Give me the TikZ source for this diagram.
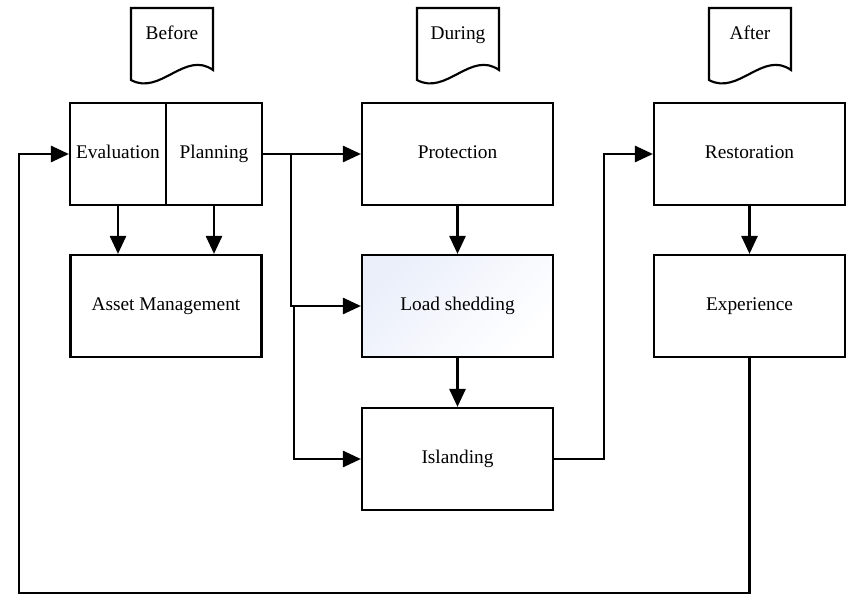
\documentclass[tikz,border=0pt]{standalone}
\usepackage{fontspec}
\setmainfont{Liberation Serif}
\usetikzlibrary{arrows.meta}

\definecolor{shadeblue}{RGB}{234,239,250}

\tikzset{every picture/.style={line width=0.75pt}}
\tikzset{
  lbl/.style={font=\fontsize{14.5}{17}\selectfont, inner sep=0.75pt, text height=1.5ex, text depth=0.15ex},
  blk/.style={draw, line width=1.6pt, minimum width=143.25pt, minimum height=76.5pt, lbl},
  halfblk/.style={blk, minimum width=72pt},
  docshape/.style={draw, line width=1.6pt},
  conn/.style={line width=2pt, -{Triangle[length=13.5pt,width=12pt]}},
}

\begin{document}
\begin{tikzpicture}[x=0.75pt,y=0.75pt,yscale=-1,xscale=1]
\useasboundingbox (0,0) rectangle (846,595);

% Document shapes
\draw[docshape] (131,80) -- (131,8) -- (213,8) -- (213,70) .. controls (185,50) and (160,96) .. (131,80) -- cycle ;
\node[lbl] (before) at (172,35) {Before};
\draw[docshape] (417,80) -- (417,8) -- (499,8) -- (499,70) .. controls (471,50) and (446,96) .. (417,80) -- cycle ;
\node[lbl] (during) at (458,35) {During};
\draw[docshape] (709,80) -- (709,8) -- (791,8) -- (791,70) .. controls (763,50) and (738,96) .. (709,80) -- cycle ;
\node[lbl] (after) at (750,35) {After};

% Before
\node[halfblk] (eval) at (118,154) {Evaluation};
\node[halfblk] (plan) at (214,154) {Planning};
\node[blk] (asset) at (166,306) {Asset Management};

% During
\node[blk] (prot) at (457.5,154) {Protection};
\node[blk, top color=shadeblue, bottom color=white, shading angle=45] (load) at (457.5,306) {Load shedding};
\node[blk] (isl) at (457.5,459) {Islanding};

% After
\node[blk] (rest) at (749.5,154) {Restoration};
\node[blk] (exp) at (749.5,306) {Experience};

% Bend points
\coordinate (br1) at (291,154);
\coordinate (br2) at (294,306);
\coordinate (br3) at (604,459);
\coordinate (lb) at (19,593);

% Connections
\draw[conn] (plan) -- (prot) ;
\draw[conn] (br1) |- (load) ;
\draw[conn] (br2) |- (isl) ;
\draw[conn] (eval.south) -- (eval.south |- asset.north) ;
\draw[conn] (plan.south) -- (plan.south |- asset.north) ;
\draw[conn] (prot) -- (load) ;
\draw[conn] (load) -- (isl) ;
\draw[conn] (isl.east) -- (br3) |- (rest.west) ;
\draw[conn] (rest) -- (exp) ;
\draw[conn] (exp.south) |- (lb) |- (eval.west) ;

\end{tikzpicture}
\end{document}
